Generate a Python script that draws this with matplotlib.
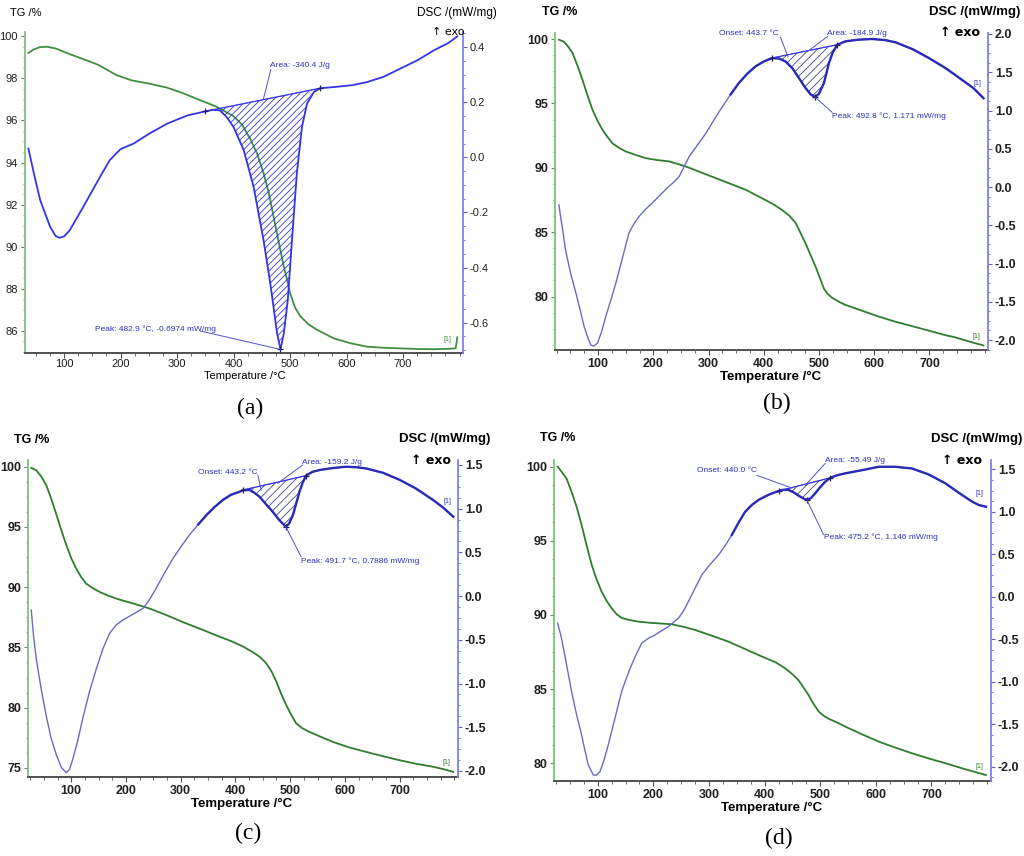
import numpy as np
import matplotlib.pyplot as plt
from matplotlib.ticker import MultipleLocator, FormatStrFormatter

plt.rcParams['font.family'] = ['Liberation Sans Narrow', 'Liberation Sans', 'DejaVu Sans']
plt.rcParams['axes.unicode_minus'] = False
plt.rcParams['hatch.linewidth'] = 0.6

# ---- data: (temperature /°C, value) ----
tg_a = [(37, 99.2), (45, 99.35), (57, 99.48), (70, 99.5), (85, 99.42), (105, 99.2), (130, 98.95),
        (160, 98.65), (193, 98.15), (220, 97.9), (250, 97.75), (282, 97.56), (310, 97.3), (341, 96.96),
        (370, 96.65), (400, 96.2), (415, 95.8), (430, 95.1), (442, 94.4), (453, 93.5), (462, 92.6),
        (471, 91.4), (480, 90.2), (489, 89.05), (495, 88.4), (500, 87.8), (509, 87.1), (518, 86.7),
        (533, 86.3), (548, 86.05), (577, 85.65), (606, 85.42), (636, 85.25), (665, 85.2), (695, 85.17),
        (725, 85.14), (754, 85.13), (780, 85.15), (793, 85.17), (796, 85.7)]
dsc_a = [(37, 0.032), (48, -0.07), (58, -0.156), (75, -0.25), (85, -0.285), (92, -0.292), (100, -0.287),
         (110, -0.265), (134, -0.18), (164, -0.07), (181, -0.01), (200, 0.03), (223, 0.05), (250, 0.085),
         (282, 0.122), (318, 0.152), (350, 0.167), (365, 0.173), (376, 0.17), (388, 0.146), (400, 0.11),
         (418, 0.026), (435.5, -0.107), (453, -0.30), (465, -0.457), (477, -0.638), (483, -0.697),
         (489, -0.638), (496, -0.517), (503.4, -0.30), (512, -0.058), (521, 0.11), (530, 0.195),
         (542, 0.237), (553.6, 0.251), (577, 0.255), (610, 0.262), (636, 0.273), (665, 0.292),
         (695, 0.322), (725, 0.352), (754, 0.388), (780, 0.415), (796, 0.439)]
base_a = [(350, 0.167), (553.6, 0.251)]

tg_b = [(29, 99.95), (38, 99.8), (46, 99.4), (54, 98.9), (63, 97.9), (72, 96.8), (81, 95.6), (90, 94.5),
        (99, 93.65), (108, 92.95), (117, 92.4), (126, 91.9), (138, 91.55), (150, 91.27), (168, 91.0),
        (186, 90.75), (207, 90.6), (228, 90.5), (244, 90.3), (259, 90.1), (283, 89.7), (307, 89.3),
        (337, 88.8), (367, 88.3), (385, 87.9), (403, 87.5), (420, 87.1), (434, 86.7), (447, 86.25),
        (458, 85.7), (467, 84.9), (476, 84.1), (485, 83.2), (494, 82.3), (502, 81.4), (509, 80.6),
        (516, 80.2), (524, 79.9), (536, 79.6), (548, 79.35), (578, 78.9), (608, 78.45), (638, 78.05),
        (669, 77.7), (699, 77.35), (729, 77.0), (745, 76.85), (765, 76.6), (785, 76.35), (798, 76.2)]
dsc_b = [(29, -0.233), (35, -0.52), (41, -0.82), (50, -1.12), (60, -1.39), (68, -1.62), (75, -1.83),
         (82, -1.98), (87, -2.065), (92, -2.08), (99, -2.04), (106, -1.90), (114, -1.69), (123, -1.48),
         (132, -1.26), (144, -0.93), (156, -0.60), (165, -0.48), (174, -0.386), (186, -0.29), (198, -0.21),
         (213, -0.10), (228, 0.007), (238, 0.07), (247, 0.14), (256, 0.27), (265, 0.40), (280, 0.55),
         (295, 0.70), (310, 0.88), (325, 1.05), (340, 1.21), (355, 1.36), (370, 1.48), (385, 1.577),
         (400, 1.64), (415, 1.686), (427.5, 1.68), (439.5, 1.64), (452, 1.55), (464, 1.42), (476, 1.29),
         (485, 1.21), (493, 1.175), (500, 1.22), (509, 1.36), (518, 1.62), (525, 1.76), (533, 1.86),
         (548, 1.904), (570, 1.925), (596, 1.935), (620, 1.92), (639, 1.89), (670, 1.80), (699, 1.686),
         (730, 1.55), (759, 1.40), (780, 1.29), (798, 1.16)]
base_b = [(415, 1.686), (533, 1.86)]

tg_c = [(27, 99.9), (36, 99.7), (45, 99.2), (54, 98.5), (63, 97.4), (73, 96.0), (82, 94.7), (91, 93.5),
        (100, 92.4), (109, 91.55), (118, 90.85), (127, 90.3), (140, 89.9), (152, 89.6), (167, 89.3),
        (182, 89.06), (197, 88.85), (213, 88.65), (243, 88.23), (274, 87.68), (304, 87.1), (334, 86.57),
        (365, 86.0), (395, 85.47), (415, 85.05), (432, 84.6), (445, 84.2), (456, 83.7), (466, 83.0),
        (475, 82.14), (484, 81.1), (493, 80.2), (502, 79.4), (511, 78.7), (522, 78.3), (535, 78.0),
        (555, 77.6), (578, 77.16), (608, 76.7), (639, 76.33), (670, 75.97), (700, 75.64), (730, 75.35),
        (761, 75.1), (780, 74.9), (798, 74.67)]
dsc_c = [(27, -0.16), (31, -0.45), (36, -0.714), (45, -1.06), (54, -1.36), (63, -1.62), (73, -1.82),
         (82, -1.96), (91, -2.02), (97, -1.98), (103, -1.86), (112, -1.65), (121, -1.40), (133, -1.10),
         (146, -0.828), (158, -0.60), (170, -0.427), (182, -0.33), (194, -0.275), (212, -0.21),
         (231, -0.141), (243, -0.04), (255, 0.088), (270, 0.26), (286, 0.431), (301, 0.57), (316, 0.70),
         (332, 0.82), (347, 0.927), (362, 1.02), (377, 1.10), (392, 1.16), (408, 1.195), (414, 1.214),
         (426, 1.214), (435, 1.18), (444, 1.137), (456, 1.05), (468, 0.966), (480, 0.87), (492, 0.794),
         (498, 0.83), (505, 0.927), (511, 1.06), (517, 1.195), (523, 1.30), (529, 1.378), (540, 1.42),
         (554, 1.443), (578, 1.465), (602, 1.48), (620, 1.475), (639, 1.46), (670, 1.41), (700, 1.33),
         (730, 1.23), (761, 1.10), (780, 1.01), (798, 0.908)]
base_c = [(414, 1.214), (529, 1.378)]

tg_d = [(28, 100.0), (35, 99.66), (44, 99.2), (53, 98.3), (62, 97.3), (71, 96.07), (80, 94.7), (89, 93.4),
        (98, 92.4), (107, 91.57), (116, 90.95), (125, 90.45), (134, 90.05), (143, 89.8), (158, 89.65),
        (173, 89.55), (194, 89.47), (215, 89.42), (233, 89.37), (254, 89.2), (275, 88.99), (305, 88.6),
        (335, 88.2), (365, 87.7), (395, 87.2), (420, 86.8), (437, 86.4), (450, 86.0), (461, 85.6),
        (470, 85.1), (479, 84.6), (488, 84.0), (497, 83.5), (506, 83.2), (515, 83.0), (530, 82.75),
        (545, 82.47), (575, 81.95), (605, 81.46), (635, 81.05), (665, 80.67), (695, 80.32), (725, 80.0),
        (760, 79.6), (798, 79.2)]
dsc_d = [(28, -0.31), (35, -0.49), (44, -0.80), (53, -1.117), (62, -1.39), (71, -1.627), (77, -1.81),
         (83, -1.98), (92, -2.10), (98, -2.10), (104, -2.06), (111, -1.93), (119, -1.744), (131, -1.43),
         (143, -1.117), (152, -0.95), (161, -0.80), (170, -0.67), (179, -0.548), (191, -0.49), (203, -0.45),
         (215, -0.40), (227, -0.352), (245, -0.254), (254, -0.17), (263, -0.057), (275, 0.10), (287, 0.256),
         (302, 0.38), (317, 0.49), (329, 0.60), (341, 0.727), (353, 0.87), (365, 1.0), (377, 1.08),
         (389, 1.14), (407, 1.2), (425, 1.245), (434, 1.26), (443, 1.257), (452, 1.23), (461, 1.19),
         (469, 1.16), (476, 1.14), (483, 1.16), (491, 1.218), (500, 1.29), (509, 1.355), (518, 1.40),
         (530, 1.43), (545, 1.453), (575, 1.49), (605, 1.53), (635, 1.53), (665, 1.51), (695, 1.44),
         (725, 1.335), (750, 1.22), (773, 1.12), (785, 1.08), (798, 1.06)]
base_d = [(425, 1.245), (518, 1.40)]

onset_labels = [None, "Onset: 443.7 °C", "Onset: 443.2 °C", "Onset: 440.0 °C"]
area_labels = ["Area: -340.4 J/g", "Area: -184.9 J/g", "Area: -159.2 J/g", "Area: -55.49 J/g"]
peak_labels = ["Peak: 482.9 °C, -0.6974 mW/mg", "Peak: 492.8 °C, 1.171 mW/mg",
               "Peak: 491.7 °C, 0.7886 mW/mg", "Peak: 475.2 °C, 1.146 mW/mg"]
panel_names = ["(a)", "(b)", "(c)", "(d)"]

# ---- layout ----
W, H = 1024, 856
GREEN = "#3f8f3f"
BLUE = "#3535e8"


def fx(x):
    return x / W


def fy(y):
    return 1 - y / H


panels = [
    dict(tg=tg_a, dsc=dsc_a, base=base_a, box=(25, 463, 32, 353), xlim=(31, 806),
         ylim=(84.95, 100.2), y2lim=(-0.71, 0.455), ystep=2, y2step=0.2, y2fmt='%.1f', bold=False,
         hatch='/////', tg_end=(772, 85.5), dsc_end=None,
         onset=None, area=((465, 0.334), (453, 0.213)), peak=((154, -0.623), (483, -0.697)),
         peak_tip=(341, -0.63),
         txt=dict(tg=(10, 13), dsc=(497, 13), exo=(465, 32), xl=(245, 376), name=(250, 408))),
    dict(tg=tg_b, dsc=dsc_b, base=base_b, box=(555, 988, 33, 350), xlim=(22, 806),
         ylim=(75.85, 100.47), y2lim=(-2.13, 2.013), ystep=5, y2step=0.5, y2fmt='%.1f', bold=True,
         hatch='////', tg_end=(778, 76.8), dsc_end=(780, 1.33),
         onset=((427, 2.0), (444, 1.70), (430, 1.96)), area=((515, 2.0), (479, 1.77)),
         peak=((524, 0.92), (493, 1.175)), peak_tip=(524, 0.975),
         txt=dict(tg=(542, 12), dsc=(1020, 12), exo=(980, 33), xl=(771, 377), name=(777, 403))),
    dict(tg=tg_c, dsc=dsc_c, base=base_c, box=(28, 458, 460, 777), xlim=(21, 806.6),
         ylim=(74.25, 100.55), y2lim=(-2.069, 1.557), ystep=5, y2step=0.5, y2fmt='%.1f', bold=True,
         hatch='////', tg_end=(778, 75.3), dsc_end=(780, 1.06),
         onset=((441, 1.416), (447, 1.21), (441, 1.385)), area=((522, 1.53), (477, 1.29)),
         peak=((520, 0.40), (492, 0.794)), peak_tip=(520, 0.45),
         txt=dict(tg=(14, 440), dsc=(490, 439), exo=(451, 460), xl=(242, 804), name=(248, 833))),
    dict(tg=tg_d, dsc=dsc_d, base=base_d, box=(554, 991, 460, 781), xlim=(21.4, 807),
         ylim=(78.8, 100.45), y2lim=(-2.17, 1.61), ystep=5, y2step=0.5, y2fmt='%.1f', bold=True,
         hatch='////', tg_end=(780, 79.7), dsc_end=(780, 1.2),
         onset=((386, 1.484), (449, 1.28), (386, 1.43)), area=((508, 1.60), (473, 1.31)),
         peak=((506, 0.696), (476, 1.14)), peak_tip=(506, 0.73),
         txt=dict(tg=(540, 438), dsc=(1022, 439), exo=(982, 460), xl=(772, 808), name=(779, 838))),
]

fig = plt.figure(figsize=(W / 100, H / 100), dpi=100)

for i, p in enumerate(panels):
    l, r, t, b = p['box']
    ax = fig.add_axes([fx(l), fy(b), (r - l) / W, (b - t) / H])
    ax2 = ax.twinx()
    weight = 'bold' if p['bold'] else 'normal'
    tsize = 9 if p['bold'] else 8

    tg = np.array(p['tg'])
    dsc = np.array(p['dsc'])
    tg_col = GREEN if not p['bold'] else "#2e7d2e"
    ax.plot(tg[:, 0], tg[:, 1], color=tg_col, lw=1.3)

    if p['bold']:
        ax2.plot(dsc[:, 0], dsc[:, 1], color="#6a6ac4", lw=1.0)
        hot = dsc[:, 0] >= 330
        ax2.plot(dsc[hot, 0], dsc[hot, 1], color="#2a2ab8", lw=1.7)
        hcol = "#444488"
    else:
        ax2.plot(dsc[:, 0], dsc[:, 1], color=BLUE, lw=1.3)
        hcol = BLUE

    # hatched peak area between curve and straight baseline
    (b0x, b0y), (b1x, b1y) = p['base']
    m = (dsc[:, 0] >= b0x) & (dsc[:, 0] <= b1x)
    ax2.fill(dsc[m, 0], dsc[m, 1], facecolor='none', edgecolor=hcol, hatch=p['hatch'], lw=0.4)
    ax2.plot([b0x, b1x], [b0y, b1y], color=BLUE, lw=0.9)
    ax2.plot([b0x, b1x], [b0y, b1y], ls='none', marker='+', ms=5, mew=0.9, color="#202060")

    ann = dict(color="#3030c0", fontsize=6, fontweight='normal')
    line = dict(arrowstyle='-', color="#5050c8", lw=0.7, shrinkA=0, shrinkB=0)
    # area label
    (ax_, ay_), (tx, ty) = p['area']
    ax2.text(ax_, ay_, area_labels[i], ha='left', va='center', **ann)
    ax2.annotate('', xy=(tx, ty), xytext=(ax_ + 1, ay_ - (0.015 if i == 0 else 0.03)), arrowprops=line)
    # peak label
    (px_, py_), (pkx, pky) = p['peak']
    ax2.text(px_, py_, peak_labels[i], ha='left', va='center', **ann)
    ax2.annotate('', xy=(pkx, pky), xytext=p['peak_tip'], arrowprops=line)
    ax2.plot([pkx], [pky], ls='none', marker='+', ms=5, mew=0.9, color="#202060")
    # onset label
    if p['onset'] is not None:
        (ox, oy), (otx, oty), (olx, oly) = p['onset']
        ax2.text(ox, oy, onset_labels[i], ha='right', va='center', **ann)
        ax2.annotate('', xy=(otx, oty), xytext=(olx, oly), arrowprops=line)

    # "[1]" curve tags
    ax.text(*p['tg_end'], "[1]", color=tg_col, fontsize=5)
    if p['dsc_end'] is not None:
        ax2.text(*p['dsc_end'], "[1]", color="#3030c0", fontsize=5)

    # axes styling
    ax.set_xlim(*p['xlim'])
    ax.set_ylim(*p['ylim'])
    ax2.set_ylim(*p['y2lim'])
    ax.xaxis.set_minor_locator(MultipleLocator(25))
    ax.set_xticks([100, 200, 300, 400, 500, 600, 700])
    ax.yaxis.set_major_locator(MultipleLocator(p['ystep']))
    ax.yaxis.set_minor_locator(MultipleLocator(p['ystep'] / 4))
    ax.yaxis.set_major_formatter(FormatStrFormatter('%d'))
    ax2.yaxis.set_major_locator(MultipleLocator(p['y2step']))
    ax2.yaxis.set_minor_locator(MultipleLocator(p['y2step'] / 4))
    ax2.yaxis.set_major_formatter(FormatStrFormatter(p['y2fmt']))

    for s in ['top', 'right']:
        ax.spines[s].set_visible(False)
    for s in ['top', 'left', 'bottom']:
        ax2.spines[s].set_visible(False)
    ax.spines['left'].set_color("#7fc07f")
    ax.spines['left'].set_linewidth(1.3)
    ax.spines['bottom'].set_color("#505050")
    ax.spines['bottom'].set_linewidth(1.4)
    ax2.spines['right'].set_color("#8080ee")
    ax2.spines['right'].set_linewidth(1.3)

    xpad = 1 if not p['bold'] else 2
    ax.tick_params(axis='x', which='major', length=3.5, width=0.8, color="#505050", pad=xpad)
    ax.tick_params(axis='x', which='minor', length=2, width=0.6, color="#505050")
    ax.tick_params(axis='y', which='major', length=3, width=0.8, color="#509050", pad=2)
    ax.tick_params(axis='y', which='minor', length=1.5, width=0.6, color="#509050")
    ax2.tick_params(axis='y', which='major', length=3, width=0.8, color="#6060d0", pad=2)
    ax2.tick_params(axis='y', which='minor', length=1.5, width=0.6, color="#6060d0")
    for lab in ax.get_xticklabels() + ax.get_yticklabels() + ax2.get_yticklabels():
        lab.set_fontsize(tsize)
        lab.set_fontweight(weight)
        lab.set_color("#202020")

    # header and footer texts
    tp = p['txt']
    fig.text(fx(tp['tg'][0]), fy(tp['tg'][1]), "TG /%", ha='left', va='center',
             fontsize=tsize, fontweight=weight)
    fig.text(fx(tp['dsc'][0]), fy(tp['dsc'][1]), "DSC /(mW/mg)", ha='right', va='center',
             fontsize=tsize + 0.5, fontweight=weight)
    fig.text(fx(tp['exo'][0]), fy(tp['exo'][1]), "↑ exo", ha='right', va='center',
             fontsize=tsize, fontweight=weight, family=['Liberation Sans Narrow', 'DejaVu Sans'])
    fig.text(fx(tp['xl'][0]), fy(tp['xl'][1]), "Temperature /°C", ha='center', va='center',
             fontsize=tsize + (0.5 if p['bold'] else 0), fontweight=weight)
    fig.text(fx(tp['name'][0]), fy(tp['name'][1]), panel_names[i], ha='center', va='center',
             fontsize=17, family='Liberation Serif')

fig.savefig("out.png", dpi=100, facecolor='white')
